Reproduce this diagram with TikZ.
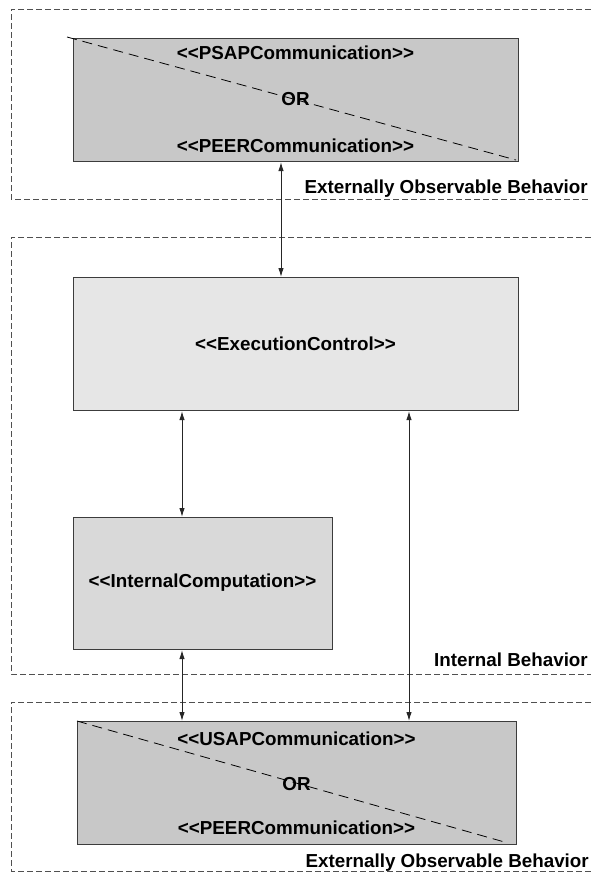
\documentclass[tikz,border=0pt]{standalone}
\usepackage{fontspec}
\setmainfont[Ligatures=TeXOff]{Liberation Sans}
\usetikzlibrary{arrows.meta}
\definecolor{commfill}{HTML}{C8C8C8}
\definecolor{ctrlfill}{HTML}{E6E6E6}
\definecolor{compfill}{HTML}{D9D9D9}
\definecolor{edge}{HTML}{3C3C3C}
\definecolor{framecol}{HTML}{505050}
\begin{document}
\begin{tikzpicture}[x=1pt,y=-1pt,
  frame/.style={draw=framecol, dash pattern=on 6pt off 3pt, line width=1pt},
  block/.style={draw=edge, line width=1.1pt, inner sep=0pt, anchor=north west},
  txt/.style={font=\fontsize{18.8}{21}\selectfont\bfseries, inner sep=0pt},
  lbl/.style={font=\fontsize{18.8}{21}\selectfont\bfseries, inner sep=0pt, anchor=base east},
  diag/.style={draw=black, dash pattern=on 10pt off 6pt, line width=0.8pt},
  arr/.style={{Latex[length=9pt,width=5.5pt]}-{Latex[length=9pt,width=5.5pt]}, draw=black!85, line width=1pt}
]
\useasboundingbox (0,0) rectangle (591,873);

% behaviour frames (open to the right)
\draw[frame] (591,9) -| (11,199) -- (591,199);
\draw[frame] (591,237) -| (11,674) -- (591,674);
\draw[frame] (591,702) -| (11,871) -- (591,871);

% blocks
\node[block, fill=commfill, minimum width=445pt, minimum height=123pt] (psap) at (73,38) {};
\node[block, fill=ctrlfill, minimum width=445pt, minimum height=133pt] (exec) at (73,277) {};
\node[block, fill=compfill, minimum width=259pt, minimum height=132pt] (comp) at (73,517) {};
\node[block, fill=commfill, minimum width=439pt, minimum height=123pt] (usap) at (77,721) {};

% "either/or" diagonals
\coordinate (d1s) at (67,37);
\coordinate (d1e) at (516,160);
\draw[diag] (d1s) -- (d1e);
\coordinate (d2e) at (508,843);
\draw[diag] (usap.north west) -- (d2e);

% block texts
\node[txt] (psapA) at (295.5,53) {<<PSAPCommunication>>};
\node[txt] (psapOr) at (295.5,99) {OR};
\node[txt] (psapB) at (295.5,146) {<<PEERCommunication>>};
\node[txt] (execT) at (295.5,344) {<<ExecutionControl>>};
\node[txt] (compT) at (202.5,583) {<<InternalComputation>>};
\node[txt] (usapA) at (296.5,739) {<<USAPCommunication>>};
\node[txt] (usapOr) at (296.5,784) {OR};
\node[txt] (usapB) at (296.5,828) {<<PEERCommunication>>};

% frame labels
\node[lbl] (lblTop) at (588,193) {Externally Observable Behavior};
\node[lbl] (lblMid) at (588,666) {Internal Behavior};
\node[lbl] (lblBot) at (589,867) {Externally Observable Behavior};

% connectors
\coordinate (c1) at (281,0);
\coordinate (c2) at (182,0);
\coordinate (c3) at (409,0);
\draw[arr] (psap.south -| c1) -- (exec.north -| c1);
\draw[arr] (exec.south -| c2) -- (comp.north -| c2);
\draw[arr] (comp.south -| c2) -- (usap.north -| c2);
\draw[arr] (exec.south -| c3) -- (usap.north -| c3);
\end{tikzpicture}
\end{document}
